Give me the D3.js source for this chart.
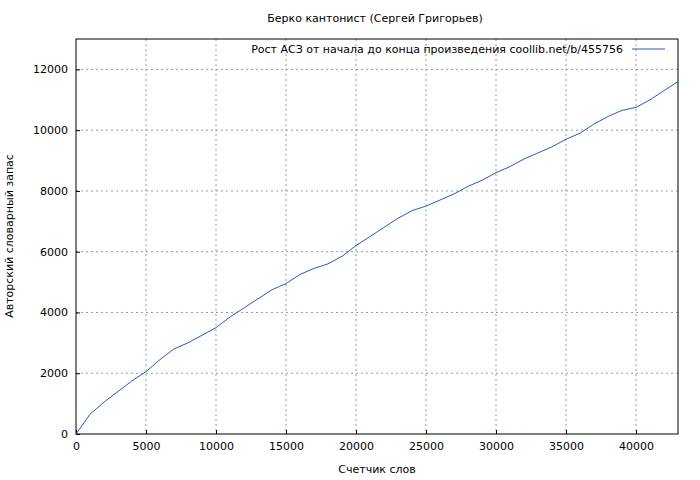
<!DOCTYPE html>
<html><head><meta charset="utf-8">
<script src="https://cdn.jsdelivr.net/npm/d3@7"></script>
<style>body{margin:0;background:#fff}text{font-family:"DejaVu Sans";font-size:11px;fill:#000}</style>
</head><body>
<svg id="chart" width="700" height="480"></svg>
<script>
let words = [0,1000,2000,3000,4000,5000,6000,7000,8000,9000,10000,11000,12000,13000,14000,15000,16000,17000,18000,19000,20000,21000,22000,23000,24000,25000,26000,27000,28000,29000,30000,31000,32000,33000,34000,35000,36000,37000,38000,39000,40000,41000,42000,43000]
let vocab = [0,650,1050,1400,1750,2050,2450,2800,3000,3250,3500,3850,4150,4450,4750,4950,5250,5450,5600,5850,6200,6500,6800,7100,7350,7500,7700,7900,8150,8350,8600,8800,9050,9250,9450,9700,9900,10200,10450,10650,10750,11000,11300,11600]
let xTicks = [0,5000,10000,15000,20000,25000,30000,35000,40000]
let yTicks = [0,2000,4000,6000,8000,10000,12000]

let svg = d3.select('#chart')
let padding = {left: 76, right: 678, top: 39, bottom: 434}
let x = d3.scaleLinear().domain([0, 43000]).range([padding.left, padding.right])
let y = d3.scaleLinear().domain([0, 13000]).range([padding.bottom, padding.top])

// grid
svg.append('g').selectAll('line').data(xTicks.slice(1)).join('line')
    .attr('x1', d => x(d)).attr('x2', d => x(d))
    .attr('y1', padding.top).attr('y2', padding.bottom)
    .attr('stroke', '#999').attr('stroke-dasharray', '2,3')
svg.append('g').selectAll('line').data(yTicks.slice(1)).join('line')
    .attr('x1', padding.left).attr('x2', padding.right)
    .attr('y1', d => y(d)).attr('y2', d => y(d))
    .attr('stroke', '#999').attr('stroke-dasharray', '2,3')

svg.append('g').attr('transform', `translate(0,${padding.bottom})`)
    .call(d3.axisBottom(x).tickValues(xTicks).tickSize(-4).tickPadding(8).tickFormat(d3.format('d')))
    .call(g => g.select('.domain').remove())
svg.append('g').attr('transform', `translate(${padding.left},0)`)
    .call(d3.axisLeft(y).tickValues(yTicks).tickSize(-4).tickPadding(8).tickFormat(d3.format('d')))
    .call(g => g.select('.domain').remove())
svg.selectAll('.tick line').attr('stroke', '#000')
svg.selectAll('.tick text').style('font-family', 'DejaVu Sans').style('font-size', '11px')

svg.append('rect').attr('x', padding.left).attr('y', padding.top)
    .attr('width', padding.right - padding.left).attr('height', padding.bottom - padding.top)
    .attr('fill', 'none').attr('stroke', '#000')

let line = d3.line().x((d, i) => x(words[i])).y(d => y(d))
svg.append('path').datum(vocab).attr('d', line)
    .attr('fill', 'none').attr('stroke', '#1f5fbf').attr('stroke-width', 1)

svg.append('text').attr('x', 375).attr('y', 22).attr('text-anchor', 'middle').text('Берко кантонист (Сергей Григорьев)')
svg.append('text').attr('x', 377).attr('y', 473).attr('text-anchor', 'middle').text('Счетчик слов')
svg.append('text').attr('transform', 'translate(13,236) rotate(-90)').attr('text-anchor', 'middle').text('Авторский словарный запас')
svg.append('text').attr('x', 623).attr('y', 53).attr('text-anchor', 'end').text('Рост АСЗ от начала до конца произведения  coollib.net/b/455756')
svg.append('line').attr('x1', 632).attr('x2', 665).attr('y1', 49).attr('y2', 49).attr('stroke', '#1f5fbf')
</script>
</body></html>
